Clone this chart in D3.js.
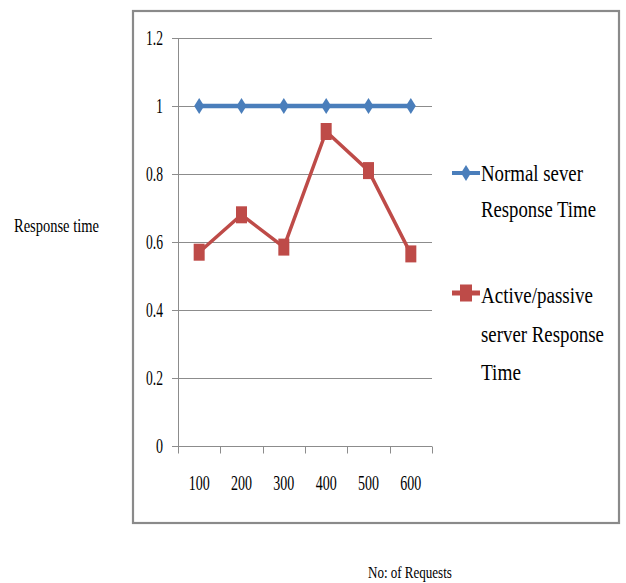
<!DOCTYPE html>
<html>
<head>
<meta charset="utf-8">
<script src="https://cdn.jsdelivr.net/npm/d3@7/dist/d3.min.js"></script>
<style>
  html, body { margin: 0; padding: 0; background: #fff; }
  svg { display: block; }
  text { font-family: "Liberation Serif", "Times New Roman", serif; fill: #000; }
</style>
</head>
<body>
<svg id="chart" width="626" height="583"></svg>
<script>
// Response time per number of requests
const requests = ["100", "200", "300", "400", "500", "600"];
const normalServer = [1, 1, 1, 1, 1, 1];
const activePassive = [0.57, 0.68, 0.585, 0.925, 0.81, 0.565];
const yTicks = [0, 0.2, 0.4, 0.6, 0.8, 1, 1.2];
const seriesNames = [["Normal sever", "Response Time"], ["Active/passive", "server Response", "Time"]];
const seriesColors = ["#4a7ebb", "#be4b48"];

const svg = d3.select("#chart");

// narrow serif text: place at (px, py) and squeeze horizontally to width w
function narrowText(parent, px, py, str, size, w, anchor) {
  const t = parent.append("text").attr("font-size", size).attr("text-anchor", anchor || "start").text(str);
  const nat = t.node().getComputedTextLength();
  const k = w / nat;
  t.attr("transform", `translate(${px},${py}) scale(${k},1)`);
  return t;
}

// outer frame
svg.append("rect")
  .attr("x", 133).attr("y", 11).attr("width", 486).attr("height", 512)
  .attr("fill", "none").attr("stroke", "#8a8a8a").attr("stroke-width", 2.2);

const x = d3.scaleBand().domain(requests).range([178, 432]);
const y = d3.scaleLinear().domain([0, 1.2]).range([446, 38]);

// gridlines
svg.append("g").selectAll("line").data(yTicks).join("line")
  .attr("x1", 172).attr("x2", 432)
  .attr("y1", d => Math.round(y(d)) + 0.5).attr("y2", d => Math.round(y(d)) + 0.5)
  .attr("stroke", "#8c8c8c").attr("stroke-width", 1);

// y axis
const yAxis = svg.append("g").attr("transform", "translate(178.5,0)")
  .call(d3.axisLeft(y).tickValues(yTicks).tickSize(6).tickFormat(() => ""));
yAxis.select(".domain").attr("stroke", "#8c8c8c").attr("d", `M0,${y(1.2)}V${y(0)}`);
yAxis.selectAll(".tick line").attr("stroke", "#8c8c8c");
const yLabels = svg.append("g");
yTicks.forEach(v => {
  const s = d3.format("")(+v.toFixed(1));
  narrowText(yLabels, 163, y(v) + 7, s, 20, s.length === 1 ? 7 : 17, "end");
});

// x axis with ticks at category boundaries
const xAxis = svg.append("g").attr("transform", `translate(0,${Math.round(y(0)) + 0.5})`);
xAxis.append("line").attr("x1", 178).attr("x2", 432).attr("stroke", "#8c8c8c");
const bounds = requests.map(d => x(d)).concat([x.range()[1]]);
xAxis.selectAll(".tk").data(bounds).join("line").attr("class", "tk")
  .attr("x1", d => Math.round(d) + 0.5).attr("x2", d => Math.round(d) + 0.5)
  .attr("y1", 0).attr("y2", 7).attr("stroke", "#8c8c8c");
requests.forEach(d => narrowText(xAxis, x(d) + x.bandwidth() / 2, 43, d, 20, 21, "middle"));

const cx = d => x(d) + x.bandwidth() / 2;
const line = d3.line().x((v, i) => cx(requests[i])).y(v => y(v));

// normal server series
svg.append("path").datum(normalServer).attr("d", line)
  .attr("fill", "none").attr("stroke", seriesColors[0]).attr("stroke-width", 4.5);
const diamond = (px, py) => `M${px},${py - 8}L${px + 5},${py}L${px},${py + 8}L${px - 5},${py}Z`;
svg.append("g").selectAll("path").data(normalServer).join("path")
  .attr("d", (v, i) => diamond(cx(requests[i]), y(v))).attr("fill", seriesColors[0]);

// active/passive series
svg.append("path").datum(activePassive).attr("d", line)
  .attr("fill", "none").attr("stroke", seriesColors[1]).attr("stroke-width", 3.5);
svg.append("g").selectAll("rect").data(activePassive).join("rect")
  .attr("x", (v, i) => cx(requests[i]) - 5.5).attr("y", v => y(v) - 8.5)
  .attr("width", 11).attr("height", 17).attr("fill", seriesColors[1]);

// legend
const legend = svg.append("g");
const legendY = [173, 293];
const legendLines = [[181, 217], [303, 342, 380]];
const legendWidths = [[102, 115], [112, 123, 40]];
seriesNames.forEach((names, s) => {
  legend.append("line").attr("x1", 452).attr("x2", 480)
    .attr("y1", legendY[s]).attr("y2", legendY[s])
    .attr("stroke", seriesColors[s]).attr("stroke-width", s === 0 ? 4 : 5);
  if (s === 0) {
    legend.append("path").attr("d", diamond(466, legendY[s])).attr("fill", seriesColors[s]);
  } else {
    legend.append("rect").attr("x", 460).attr("y", legendY[s] - 8.5)
      .attr("width", 12).attr("height", 17).attr("fill", seriesColors[s]);
  }
  names.forEach((t, j) => narrowText(legend, 481, legendLines[s][j], t, 24, legendWidths[s][j]));
});

// axis titles
narrowText(svg, 14, 232, "Response time", 18, 85);
narrowText(svg, 368, 578, "No: of Requests", 17, 84);
</script>
</body>
</html>
